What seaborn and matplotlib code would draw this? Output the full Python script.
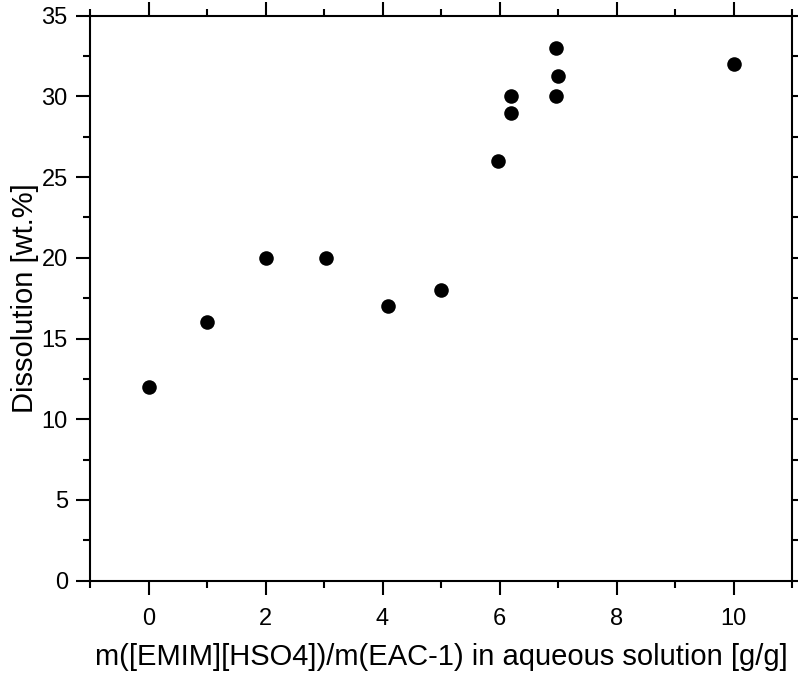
import matplotlib
matplotlib.use("Agg")
import matplotlib.pyplot as plt
import seaborn as sns
import pandas as pd
from matplotlib.ticker import MultipleLocator

ratio = [0, 1, 2, 3.04, 4.09, 5.0, 5.97, 6.2, 6.2, 6.97, 7.0, 6.97, 10.0]
dissolution = [12, 16, 20, 20, 17, 18, 26, 29, 30, 30, 31.25, 33, 32]

df = pd.DataFrame({"x": ratio, "y": dissolution})

sns.set_theme(style="white")
plt.rcParams['font.family'] = ['Liberation Sans', 'DejaVu Sans']

fig = plt.figure(figsize=(7.98, 6.73), dpi=100)
ax = fig.add_axes([0.1128, 0.1372, 0.9925 - 0.1128, 0.9767 - 0.1372])

sns.scatterplot(data=df, x="x", y="y", ax=ax, color="black", s=110,
                edgecolor="black", linewidth=0, zorder=3)

ax.set_xlim(-1, 11)
ax.set_ylim(0, 35)
ax.xaxis.set_major_locator(MultipleLocator(2))
ax.xaxis.set_minor_locator(MultipleLocator(1))
ax.yaxis.set_major_locator(MultipleLocator(5))
ax.yaxis.set_minor_locator(MultipleLocator(2.5))

for s in ax.spines.values():
    s.set_color("black")
    s.set_linewidth(1.5)

ax.tick_params(which="both", direction="out", color="black", width=1.5,
               top=True, right=True, bottom=True, left=True,
               labeltop=False, labelright=False, labelsize=17, labelcolor="black")
ax.tick_params(which="major", length=10)
ax.tick_params(which="minor", length=5)
ax.tick_params(axis="x", which="major", pad=10)
ax.tick_params(axis="y", which="major", pad=6)

ax.set_xlabel("m([EMIM][HSO4])/m(EAC-1) in aqueous solution [g/g]", fontsize=21,
              color="black")
ax.set_ylabel("Dissolution [wt.%]", fontsize=21, color="black")
ax.xaxis.set_label_coords(0.5, -0.111)
ax.yaxis.set_label_coords(-0.073, 0.5)

fig.savefig("out.png", dpi=100)
